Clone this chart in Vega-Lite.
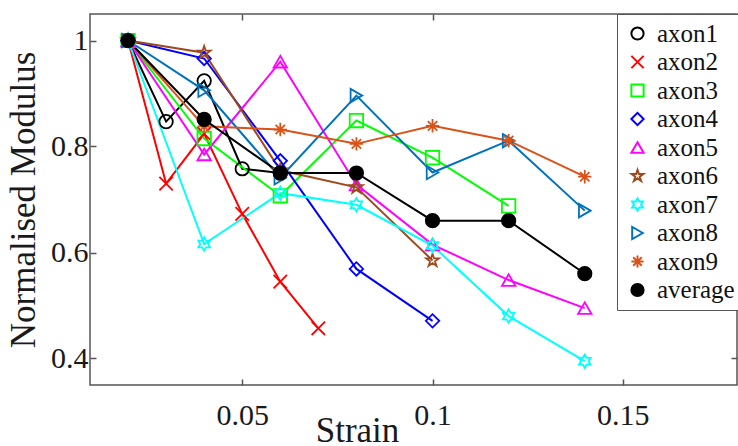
{
  "$schema": "https://vega.github.io/schema/vega-lite/v6.json",
  "autosize": "none",
  "padding": {"left": 90, "top": 14, "right": 1, "bottom": 61},
  "width": 647,
  "height": 371,
  "background": "white",
  "config": {
    "view": {"stroke": "#555555", "strokeWidth": 1.5},
    "font": "Times New Roman",
    "text": {"font": "Times New Roman"},
    "legend": {"labelFont": "Times New Roman", "titleFont": "Times New Roman"},
    "axis": {
      "grid": false,
      "domain": false,
      "tickColor": "#555555",
      "tickWidth": 1.5,
      "tickSize": -6,
      "labelFont": "Times New Roman",
      "labelFontSize": 30,
      "labelColor": "#1a1a1a",
      "titleFont": "Times New Roman",
      "titleFontSize": 35,
      "titleFontWeight": "normal",
      "titleColor": "#1a1a1a"
    }
  },
  "data": {
    "values": [
      {"series": "axon1", "strain": 0.02, "modulus": 1},
      {"series": "axon1", "strain": 0.03, "modulus": 0.847},
      {"series": "axon1", "strain": 0.04, "modulus": 0.924},
      {"series": "axon1", "strain": 0.05, "modulus": 0.758},
      {"series": "axon1", "strain": 0.06, "modulus": 0.75},
      {"series": "axon2", "strain": 0.02, "modulus": 1},
      {"series": "axon2", "strain": 0.03, "modulus": 0.73},
      {"series": "axon2", "strain": 0.04, "modulus": 0.824},
      {"series": "axon2", "strain": 0.05, "modulus": 0.673},
      {"series": "axon2", "strain": 0.06, "modulus": 0.545},
      {"series": "axon2", "strain": 0.07, "modulus": 0.457},
      {"series": "axon3", "strain": 0.02, "modulus": 1},
      {"series": "axon3", "strain": 0.04, "modulus": 0.815},
      {"series": "axon3", "strain": 0.06, "modulus": 0.707},
      {"series": "axon3", "strain": 0.08, "modulus": 0.849},
      {"series": "axon3", "strain": 0.1, "modulus": 0.779},
      {"series": "axon3", "strain": 0.12, "modulus": 0.688},
      {"series": "axon4", "strain": 0.02, "modulus": 1},
      {"series": "axon4", "strain": 0.04, "modulus": 0.966},
      {"series": "axon4", "strain": 0.06, "modulus": 0.773},
      {"series": "axon4", "strain": 0.08, "modulus": 0.569},
      {"series": "axon4", "strain": 0.1, "modulus": 0.471},
      {"series": "axon5", "strain": 0.02, "modulus": 1},
      {"series": "axon5", "strain": 0.04, "modulus": 0.785},
      {"series": "axon5", "strain": 0.06, "modulus": 0.96},
      {"series": "axon5", "strain": 0.08, "modulus": 0.728},
      {"series": "axon5", "strain": 0.1, "modulus": 0.615},
      {"series": "axon5", "strain": 0.12, "modulus": 0.548},
      {"series": "axon5", "strain": 0.14, "modulus": 0.495},
      {"series": "axon6", "strain": 0.02, "modulus": 1},
      {"series": "axon6", "strain": 0.04, "modulus": 0.977},
      {"series": "axon6", "strain": 0.06, "modulus": 0.755},
      {"series": "axon6", "strain": 0.08, "modulus": 0.723},
      {"series": "axon6", "strain": 0.1, "modulus": 0.585},
      {"series": "axon7", "strain": 0.02, "modulus": 1},
      {"series": "axon7", "strain": 0.04, "modulus": 0.616},
      {"series": "axon7", "strain": 0.06, "modulus": 0.712},
      {"series": "axon7", "strain": 0.08, "modulus": 0.69},
      {"series": "axon7", "strain": 0.1, "modulus": 0.613},
      {"series": "axon7", "strain": 0.12, "modulus": 0.48},
      {"series": "axon7", "strain": 0.14, "modulus": 0.395},
      {"series": "axon8", "strain": 0.02, "modulus": 1},
      {"series": "axon8", "strain": 0.04, "modulus": 0.906},
      {"series": "axon8", "strain": 0.06, "modulus": 0.741},
      {"series": "axon8", "strain": 0.08, "modulus": 0.896},
      {"series": "axon8", "strain": 0.1, "modulus": 0.751},
      {"series": "axon8", "strain": 0.12, "modulus": 0.811},
      {"series": "axon8", "strain": 0.14, "modulus": 0.679},
      {"series": "axon9", "strain": 0.02, "modulus": 1},
      {"series": "axon9", "strain": 0.04, "modulus": 0.838},
      {"series": "axon9", "strain": 0.06, "modulus": 0.832},
      {"series": "axon9", "strain": 0.08, "modulus": 0.805},
      {"series": "axon9", "strain": 0.1, "modulus": 0.839},
      {"series": "axon9", "strain": 0.12, "modulus": 0.811},
      {"series": "axon9", "strain": 0.14, "modulus": 0.743},
      {"series": "average", "strain": 0.02, "modulus": 1},
      {"series": "average", "strain": 0.04, "modulus": 0.851},
      {"series": "average", "strain": 0.06, "modulus": 0.75},
      {"series": "average", "strain": 0.08, "modulus": 0.75},
      {"series": "average", "strain": 0.1, "modulus": 0.66},
      {"series": "average", "strain": 0.12, "modulus": 0.66},
      {"series": "average", "strain": 0.14, "modulus": 0.56}
    ]
  },
  "resolve": {"axis": {"x": "independent", "y": "independent"}},
  "layer": [
    {
      "encoding": {
        "x": {
          "field": "strain",
          "type": "quantitative",
          "scale": {"domain": [0.01, 0.18], "nice": false, "zero": false},
          "axis": {"orient": "bottom", "values": [0.05, 0.1, 0.15], "format": "~g", "title": "Strain", "labelPadding": 21, "titleX": 267, "titleY": 56, "titleBaseline": "alphabetic", "titleAlign": "center", "labelFont": "Times New Roman"}
        },
        "y": {
          "field": "modulus",
          "type": "quantitative",
          "scale": {"domain": [0.35, 1.05], "nice": false, "zero": false},
          "axis": {"orient": "left", "values": [0.4, 0.6, 0.8, 1], "format": "~g", "title": "Normalised Modulus", "labelPadding": 8, "titlePadding": 9, "labelFont": "Times New Roman"}
        }
      },
      "layer": [
        {
          "mark": {"type": "line", "strokeWidth": 2},
          "encoding": {
            "color": {
              "field": "series",
              "type": "nominal",
              "scale": {
                "domain": ["axon1", "axon2", "axon3", "axon4", "axon5", "axon6", "axon7", "axon8", "axon9", "average"],
                "range": ["#000000", "#FF0000", "#00FF00", "#0000FF", "#FF00FF", "#9E4A1C", "#00FFFF", "#0072BD", "#D95319", "#000000"]
              },
              "legend": {
                "title": null,
                "orient": "none",
                "legendX": 527,
                "legendY": 0,
                "strokeColor": "#555555",
                "fillColor": "white",
                "padding": 7,
                "rowPadding": 2.5,
                "labelFont": "Times New Roman",
                "labelFontSize": 25,
                "labelColor": "#111111",
                "symbolSize": 150,
                "symbolStrokeWidth": 2,
                "labelOffset": 7,
                "symbolOffset": 1
              }
            },
            "order": {"field": "strain", "type": "quantitative"}
          }
        },
        {
          "mark": {"type": "point", "filled": false, "size": 180, "strokeWidth": 1.8, "opacity": 1},
          "encoding": {
            "color": {
              "field": "series",
              "type": "nominal",
              "scale": {
                "domain": ["axon1", "axon2", "axon3", "axon4", "axon5", "axon6", "axon7", "axon8", "axon9", "average"],
                "range": ["#000000", "#FF0000", "#00FF00", "#0000FF", "#FF00FF", "#9E4A1C", "#00FFFF", "#0072BD", "#D95319", "#000000"]
              },
              "legend": {
                "title": null,
                "orient": "none",
                "legendX": 527,
                "legendY": 0,
                "strokeColor": "#555555",
                "fillColor": "white",
                "padding": 7,
                "rowPadding": 2.5,
                "labelFont": "Times New Roman",
                "labelFontSize": 25,
                "labelColor": "#111111",
                "symbolSize": 150,
                "symbolStrokeWidth": 2,
                "labelOffset": 7,
                "symbolOffset": 1
              }
            },
            "fill": {
              "field": "series",
              "type": "nominal",
              "scale": {
                "domain": ["axon1", "axon2", "axon3", "axon4", "axon5", "axon6", "axon7", "axon8", "axon9", "average"],
                "range": ["transparent", "transparent", "transparent", "transparent", "transparent", "transparent", "transparent", "transparent", "transparent", "#000000"]
              },
              "legend": {"title": null, "labelFont": "Times New Roman"}
            },
            "shape": {
              "field": "series",
              "type": "nominal",
              "scale": {
                "domain": ["axon1", "axon2", "axon3", "axon4", "axon5", "axon6", "axon7", "axon8", "axon9", "average"],
                "range": [
                  "circle",
                  "M-1,-1L1,1M-1,1L1,-1",
                  "square",
                  "diamond",
                  "triangle-up",
                  "M0,-1L0.2245,-0.309L0.951,-0.309L0.363,0.118L0.588,0.809L0,0.382L-0.588,0.809L-0.363,0.118L-0.951,-0.309L-0.2245,-0.309Z",
                  "M0,-1L0.2887,-0.5L0.866,-0.5L0.577,0L0.866,0.5L0.2887,0.5L0,1L-0.2887,0.5L-0.866,0.5L-0.577,0L-0.866,-0.5L-0.2887,-0.5Z",
                  "triangle-right",
                  "M0,-1L0,1M-1,0L1,0M-0.7,-0.7L0.7,0.7M-0.7,0.7L0.7,-0.7",
                  "circle"
                ]
              },
              "legend": {"title": null, "labelFont": "Times New Roman"}
            }
          }
        }
      ]
    },
    {
      "mark": {"type": "point", "opacity": 0},
      "encoding": {
        "x": {
          "field": "strain",
          "type": "quantitative",
          "axis": {"orient": "top", "values": [0.05, 0.1, 0.15], "labels": false, "title": null}
        },
        "y": {
          "field": "modulus",
          "type": "quantitative",
          "axis": {"orient": "right", "values": [0.4, 0.6, 0.8, 1], "labels": false, "title": null}
        }
      }
    }
  ]
}
